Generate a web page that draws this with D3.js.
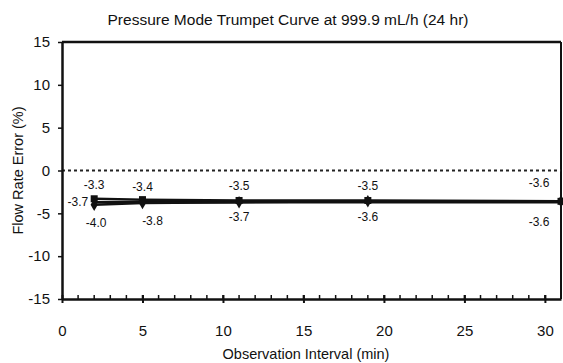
<!DOCTYPE html>
<html><head><meta charset="utf-8">
<script src="https://cdn.jsdelivr.net/npm/d3@7"></script>
<style>body{margin:0;background:#fff;}svg{display:block;font-family:"Liberation Sans",Arial,sans-serif;}</style>
</head><body>
<script>
const intervals = [2, 5, 11, 19, 31];
const maxError = [-3.3, -3.4, -3.5, -3.5, -3.6];
const minError = [-4.0, -3.8, -3.7, -3.6, -3.6];
const overallError = -3.7;
const xTicks = [0, 5, 10, 15, 20, 25, 30];
const yTicks = [-15, -10, -5, 0, 5, 10, 15];
const title = "Pressure Mode Trumpet Curve at 999.9 mL/h (24 hr)";
const xTitle = "Observation Interval (min)";
const yTitle = "Flow Rate Error (%)";

const fmt1 = v => d3.format(".1f")(v).replace("\u2212", "-");
const fmt0 = v => String(v);

const W = 563, H = 363;
const svg = d3.select("body").append("svg").attr("width", W).attr("height", H);
const x = d3.scaleLinear().domain([0, 31]).range([62, 561]);
const y = d3.scaleLinear().domain([-15, 15]).range([299, 42]);

// frame
svg.append("line").attr("x1", x(0)).attr("x2", x(31)).attr("y1", y(15)).attr("y2", y(15)).attr("stroke", "#111").attr("stroke-width", 2.5);
svg.append("line").attr("x1", x(31)).attr("x2", x(31)).attr("y1", y(15)).attr("y2", y(-15)).attr("stroke", "#111").attr("stroke-width", 2);

// zero dotted line
svg.append("line").attr("x1", x(0)).attr("x2", x(31)).attr("y1", y(0)).attr("y2", y(0))
  .attr("stroke", "#222").attr("stroke-width", 2).attr("stroke-dasharray", "3,3");

// minor x ticks (inside)
svg.append("g").selectAll("line").data(d3.range(1, 31)).join("line")
  .attr("x1", d => x(d)).attr("x2", d => x(d)).attr("y1", y(-15)).attr("y2", y(-15) - 4)
  .attr("stroke", "#111").attr("stroke-width", 1.5);

// x axis
const gx = svg.append("g").attr("transform", `translate(0,${y(-15)})`)
  .call(d3.axisBottom(x).tickValues(xTicks).tickFormat(fmt0).tickSize(4).tickSizeOuter(0).tickPadding(22));
gx.select(".domain").attr("stroke", "#111").attr("stroke-width", 2.5);
gx.selectAll(".tick line").attr("stroke", "#111").attr("stroke-width", 2).attr("y1", -4);
gx.selectAll("text").attr("font-size", 15).attr("fill", "#111").attr("font-family", "Liberation Sans, Arial, sans-serif");

// y axis
const gy = svg.append("g").attr("transform", `translate(${x(0)},0)`)
  .call(d3.axisLeft(y).tickValues(yTicks).tickFormat(fmt0).tickSize(4).tickSizeOuter(0).tickPadding(8));
gy.select(".domain").attr("stroke", "#111").attr("stroke-width", 2.5);
gy.selectAll(".tick line").attr("stroke", "#111").attr("stroke-width", 1.5);
gy.selectAll("text").attr("font-size", 15).attr("fill", "#111").attr("font-family", "Liberation Sans, Arial, sans-serif");

// series
const line = d3.line().x(d => x(d[0])).y(d => y(d[1]));
const maxPts = intervals.map((t, i) => [t, maxError[i]]);
const minPts = intervals.map((t, i) => [t, minError[i]]);
const meanPts = intervals.map(t => [t, overallError]);
[meanPts, minPts, maxPts].forEach(p => {
  svg.append("path").datum(p).attr("d", line).attr("fill", "none").attr("stroke", "#111").attr("stroke-width", 2.5);
});
svg.append("g").selectAll("rect").data(maxPts).join("rect")
  .attr("x", d => x(d[0]) - 3.5).attr("y", d => y(d[1]) - 3.5).attr("width", 7).attr("height", 7).attr("fill", "#111");
svg.append("g").selectAll("path").data(minPts).join("path")
  .attr("d", d3.symbol(d3.symbolDiamond, 45)).attr("transform", d => `translate(${x(d[0])},${y(d[1])})`).attr("fill", "#111");

// labels
const maxLabelDx = [0, 0, 0, 0, -22];
const maxLabelDy = [-10, -9, -10, -10, -14];
const minLabelDx = [2, 10, 0, 0, -22];
const minLabelDy = [22, 22, 19, 20, 25];
svg.append("g").selectAll("text").data(maxPts).join("text")
  .attr("x", (d, i) => x(d[0]) + maxLabelDx[i]).attr("y", (d, i) => y(d[1]) + maxLabelDy[i])
  .attr("text-anchor", "middle").attr("font-size", 12).attr("fill", "#111").text(d => fmt1(d[1]));
svg.append("g").selectAll("text").data(minPts).join("text")
  .attr("x", (d, i) => x(d[0]) + minLabelDx[i]).attr("y", (d, i) => y(d[1]) + minLabelDy[i])
  .attr("text-anchor", "middle").attr("font-size", 12).attr("fill", "#111").text(d => fmt1(d[1]));
svg.append("text").attr("x", x(intervals[0]) - 6).attr("y", y(overallError) + 4)
  .attr("text-anchor", "end").attr("font-size", 12).attr("fill", "#111").text(fmt1(overallError));

// titles
svg.append("text").attr("x", 288).attr("y", 25).attr("text-anchor", "middle").attr("font-size", 15.5).attr("fill", "#111").text(title);
svg.append("text").attr("x", 306).attr("y", 359).attr("text-anchor", "middle").attr("font-size", 14.5).attr("fill", "#111").text(xTitle);
svg.append("text").attr("transform", `translate(23,${y(0)}) rotate(-90)`).attr("text-anchor", "middle").attr("font-size", 14.5).attr("fill", "#111").text(yTitle);
</script>
</body></html>
